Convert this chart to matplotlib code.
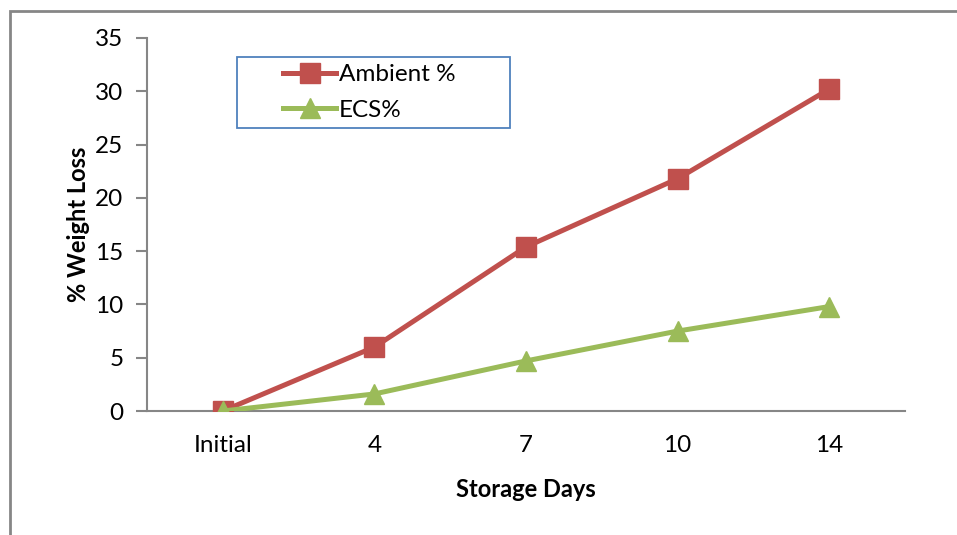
import matplotlib
matplotlib.use("Agg")
import matplotlib.pyplot as plt
from matplotlib.patches import Rectangle

plt.rcParams['font.family'] = ['Lato', 'DejaVu Sans']

days = ["Initial", "4", "7", "10", "14"]
ambient = [0.0, 6.0, 15.4, 21.8, 30.2]
ecs = [0.0, 1.6, 4.7, 7.5, 9.8]

red = "#C0504D"
green = "#9BBB59"
axis_gray = "#868686"

fig = plt.figure(figsize=(9.57, 5.35), dpi=100)
ax = fig.add_axes([147/957, 1 - 411/535, (905-147)/957, (411-38)/535])

x = [i + 0.5 for i in range(len(days))]
ax.plot(x, ambient, color=red, lw=3.6, marker="s", ms=14, mfc=red, mec=red,
        label="Ambient %", zorder=3)
ax.plot(x, ecs, color=green, lw=3.6, marker="^", ms=15, mfc=green, mec=green,
        label="ECS%", zorder=4)

ax.set_xlim(0, len(days))
ax.set_ylim(0, 35)
ax.set_yticks(range(0, 36, 5))
ax.set_xticks(x)
ax.set_xticklabels(days)
ax.tick_params(axis="x", length=0, pad=17, labelsize=17.5)
ax.tick_params(axis="y", length=8, width=1.5, color=axis_gray, pad=9, labelsize=17.5)
for s in ["top", "right"]:
    ax.spines[s].set_visible(False)
for s in ["left", "bottom"]:
    ax.spines[s].set_color(axis_gray)
    ax.spines[s].set_linewidth(1.5)

ax.set_xlabel("Storage Days", fontsize=17, fontweight="bold", labelpad=16)
ax.set_ylabel("% Weight Loss", fontsize=17, fontweight="bold", labelpad=4)

# legend box
ax.add_patch(Rectangle(((237-147)/758, (411-128)/373), (510-237)/758, (128-57)/373,
                       transform=ax.transAxes, fill=True, facecolor="white",
                       edgecolor="#4F81BD", lw=1.3, zorder=5, clip_on=False))
leg = ax.legend(loc="upper left", bbox_to_anchor=((283-147)/758, (411-64)/373),
                frameon=False, fontsize=17.5, handlelength=2.2,
                borderpad=0.0, labelspacing=0.6, handletextpad=0.1,
                borderaxespad=0)
leg.set_zorder(6)

# outer chart frame
fig.patches.append(Rectangle((10/957, -0.1), 1.2, (535-11)/535 + 0.1,
                             transform=fig.transFigure, fill=False,
                             edgecolor=axis_gray, lw=2))

fig.savefig("out.png", dpi=100)
